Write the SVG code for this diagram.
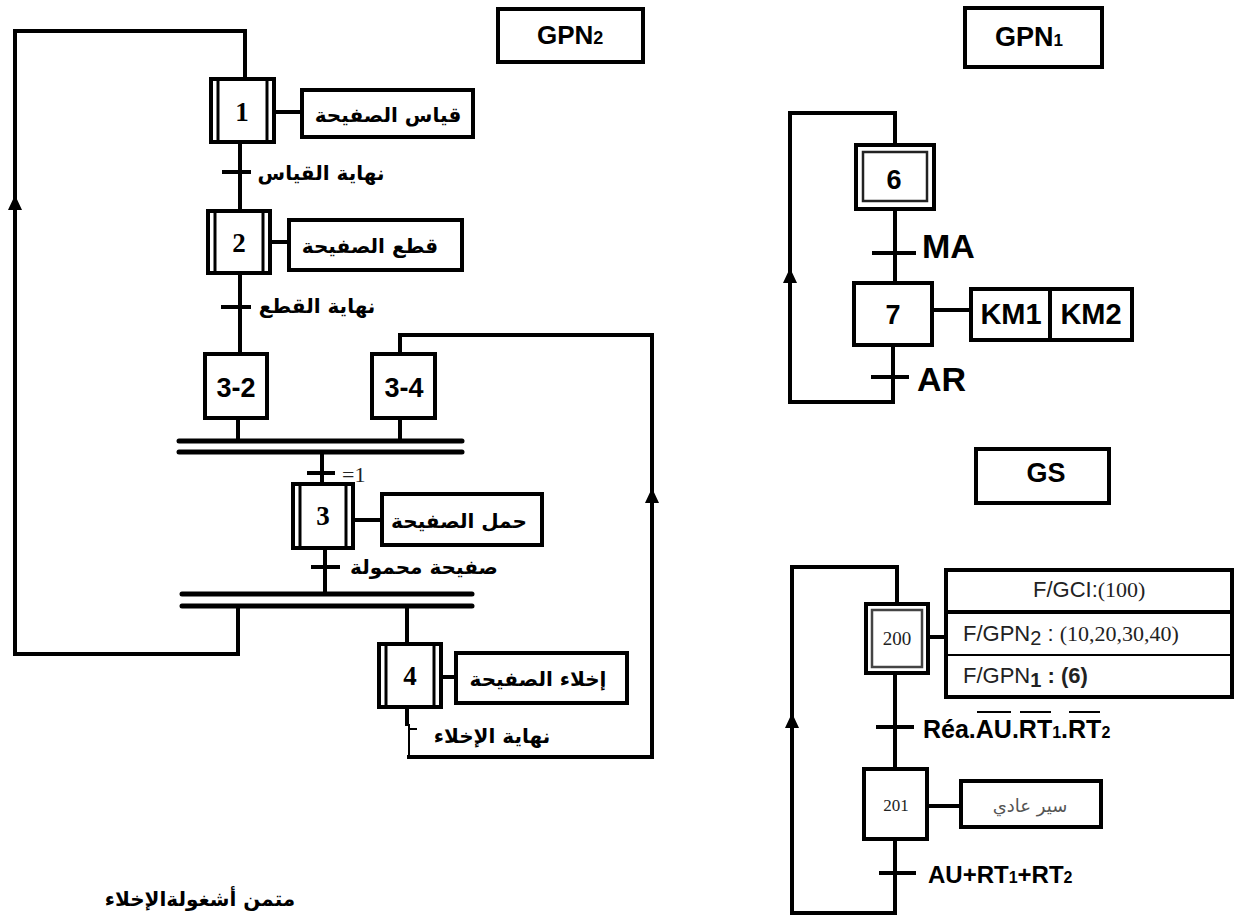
<svg xmlns="http://www.w3.org/2000/svg" width="1241" height="917" viewBox="0 0 1241 917">
<style>
.ln{stroke:#000;stroke-width:4;fill:none;stroke-linecap:square}
.thin{stroke:#000;stroke-width:2;fill:none}
.bar{stroke:#000;stroke-width:5;fill:none;stroke-linecap:round}
.box{fill:#fff;stroke:#000;stroke-width:4}
.inner{stroke:#000;stroke-width:3;fill:none}
.ar{font-family:"DejaVu Sans",sans-serif;font-weight:bold;font-size:20px;fill:#000}
.lbl{font-family:"Liberation Sans",Arial,sans-serif;font-weight:bold;fill:#000}
.num{font-family:"Liberation Serif","Times New Roman",serif;font-weight:bold;font-size:27px;fill:#000}
.ser{font-family:"Liberation Serif","Times New Roman",serif;fill:#222}
.sans{font-family:"Liberation Sans",Arial,sans-serif;fill:#222}
</style>
<defs>
<path id="arr" d="M0,-8 L-7,7 L7,7 Z" fill="#000"/>
</defs>
<rect width="1241" height="917" fill="#fff"/>

<g id="connectors">
  <!-- GPN2 -->
  <polyline class="ln" points="245,78 245,31 15,31 15,654 238,654 238,606"/>
  <line class="ln" x1="240" y1="142" x2="240" y2="210"/>
  <line class="ln" x1="240" y1="273" x2="240" y2="353"/>
  <line class="ln" x1="224" y1="172" x2="249" y2="172"/>
  <line class="ln" x1="223" y1="307" x2="249" y2="307"/>
  <line class="ln" x1="274" y1="112" x2="302" y2="112"/>
  <line class="ln" x1="270" y1="242" x2="288" y2="242"/>
  <polyline class="ln" points="400,353 400,335 652,335 652,757 409,757"/>
  <line class="ln" x1="238" y1="418" x2="238" y2="441"/>
  <line class="ln" x1="400" y1="418" x2="400" y2="441"/>
  <line class="bar" x1="179" y1="441" x2="462" y2="441"/>
  <line class="bar" x1="179" y1="452" x2="462" y2="452"/>
  <line class="ln" x1="322" y1="452" x2="322" y2="483"/>
  <line class="ln" x1="309" y1="473" x2="333" y2="473"/>
  <line class="ln" x1="353" y1="520" x2="382" y2="520"/>
  <line class="ln" x1="325" y1="548" x2="325" y2="594"/>
  <line class="ln" x1="313" y1="567" x2="338" y2="567"/>
  <line class="bar" x1="182" y1="594" x2="472" y2="594"/>
  <line class="bar" x1="182" y1="606" x2="472" y2="606"/>
  <line class="ln" x1="407" y1="606" x2="407" y2="643"/>
  <line class="ln" x1="441" y1="677" x2="456" y2="677"/>
  <line class="ln" x1="407" y1="707" x2="407" y2="724"/>
  <line class="thin" x1="409" y1="724" x2="409" y2="757"/>
  <line class="thin" x1="409" y1="729" x2="417" y2="729"/>
  <use href="#arr" x="15" y="203"/>
  <use href="#arr" x="652" y="496"/>
  <!-- GPN1 -->
  <polyline class="ln" points="895,144 895,113 790,113 790,402 893,402 893,345"/>
  <line class="ln" x1="895" y1="209" x2="895" y2="282"/>
  <line class="ln" x1="874" y1="253" x2="914" y2="253"/>
  <line class="ln" x1="873" y1="377" x2="907" y2="377"/>
  <line class="ln" x1="932" y1="310" x2="970" y2="310"/>
  <use href="#arr" x="790" y="276"/>
  <!-- GS -->
  <polyline class="ln" points="897,603 897,567 792,567 792,913 895,913 895,839"/>
  <line class="ln" x1="895" y1="673" x2="895" y2="768"/>
  <line class="ln" x1="878" y1="727" x2="912" y2="727"/>
  <line class="ln" x1="881" y1="873" x2="914" y2="873"/>
  <line class="ln" x1="928" y1="637" x2="945" y2="637"/>
  <line class="ln" x1="927" y1="806" x2="960" y2="806"/>
  <use href="#arr" x="792" y="721"/>
</g>

<!-- GPN2 title -->
<g id="title-gpn2">
  <rect class="box" x="498" y="9" width="145" height="53"/>
  <text class="lbl" x="537" y="44" font-size="26">GPN<tspan font-size="18">2</tspan></text>
</g>

<g id="step1">
  <rect class="box" x="211" y="79" width="63" height="63"/>
  <line class="inner" x1="218" y1="79" x2="218" y2="142"/>
  <line class="inner" x1="267" y1="79" x2="267" y2="142"/>
  <text class="num" x="242" y="121" text-anchor="middle">1</text>
</g>
<g id="action1">
  <rect class="box" x="302" y="90" width="171" height="47"/>
  <text class="ar" x="388" y="122" text-anchor="middle">قياس الصفيحة</text>
</g>
<g id="t1"><text class="ar" x="321" y="180" text-anchor="middle">نهاية القياس</text></g>

<g id="step2">
  <rect class="box" x="208" y="211" width="62" height="62"/>
  <line class="inner" x1="215" y1="211" x2="215" y2="273"/>
  <line class="inner" x1="263" y1="211" x2="263" y2="273"/>
  <text class="num" x="239" y="252" text-anchor="middle">2</text>
</g>
<g id="action2">
  <rect class="box" x="289" y="220" width="173" height="50"/>
  <text class="ar" x="370" y="253" text-anchor="middle">قطع الصفيحة</text>
</g>
<g id="t2"><text class="ar" x="317" y="313" text-anchor="middle">نهاية القطع</text></g>

<g id="step3-2">
  <rect class="box" x="205" y="354" width="62" height="64"/>
  <text class="lbl" x="236" y="397" font-size="27" text-anchor="middle">3-2</text>
</g>
<g id="step3-4">
  <rect class="box" x="372" y="354" width="63" height="64"/>
  <text class="lbl" x="404" y="397" font-size="27" text-anchor="middle">3-4</text>
</g>
<g id="t-sync"><text class="ser" x="342" y="482" font-size="22" fill="#000">=1</text></g>

<g id="step3">
  <rect class="box" x="293" y="484" width="60" height="64"/>
  <line class="inner" x1="300" y1="484" x2="300" y2="548"/>
  <line class="inner" x1="346" y1="484" x2="346" y2="548"/>
  <text class="num" x="323" y="525" text-anchor="middle">3</text>
</g>
<g id="action3">
  <rect class="box" x="382" y="494" width="160" height="51"/>
  <text class="ar" x="459" y="528" text-anchor="middle">حمل الصفيحة</text>
</g>
<g id="t3"><text class="ar" x="424" y="574" text-anchor="middle">صفيحة محمولة</text></g>

<g id="step4">
  <rect class="box" x="379" y="644" width="62" height="63"/>
  <line class="inner" x1="386" y1="644" x2="386" y2="707"/>
  <line class="inner" x1="434" y1="644" x2="434" y2="707"/>
  <text class="num" x="410" y="685" text-anchor="middle">4</text>
</g>
<g id="action4">
  <rect class="box" x="456" y="653" width="171" height="50"/>
  <text class="ar" x="538" y="686" text-anchor="middle">إخلاء الصفيحة</text>
</g>
<g id="t4"><text class="ar" x="492" y="743" text-anchor="middle">نهاية الإخلاء</text></g>

<!-- GPN1 -->
<g id="title-gpn1">
  <rect class="box" x="965" y="8" width="137" height="59"/>
  <text class="lbl" x="995" y="46" font-size="27">GPN<tspan font-size="17">1</tspan></text>
</g>
<g id="step6">
  <rect class="box" x="856" y="145" width="78" height="64"/>
  <rect x="863" y="152" width="64" height="49" fill="none" stroke="#222" stroke-width="2.5"/>
  <text class="lbl" x="894" y="189" font-size="27" text-anchor="middle">6</text>
</g>
<g id="t-ma"><text class="lbl" x="922" y="258" font-size="34">MA</text></g>
<g id="step7">
  <rect class="box" x="854" y="283" width="78" height="62"/>
  <text class="lbl" x="893" y="324" font-size="27" text-anchor="middle">7</text>
</g>
<g id="action7">
  <rect class="box" x="971" y="289" width="161" height="51"/>
  <line class="ln" x1="1050" y1="289" x2="1050" y2="340"/>
  <text class="lbl" x="1011" y="324" font-size="29" text-anchor="middle">KM1</text>
  <text class="lbl" x="1091" y="324" font-size="29" text-anchor="middle">KM2</text>
</g>
<g id="t-ar"><text class="lbl" x="917" y="391" font-size="34">AR</text></g>

<!-- GS -->
<g id="title-gs">
  <rect class="box" x="976" y="449" width="133" height="54"/>
  <text class="lbl" x="1046" y="482" font-size="27" text-anchor="middle">GS</text>
</g>
<g id="step200">
  <rect class="box" x="866" y="604" width="62" height="69"/>
  <rect x="872" y="610" width="50" height="57" fill="none" stroke="#444" stroke-width="2.5"/>
  <text class="ser" x="897" y="645" font-size="19" text-anchor="middle" fill="#333">200</text>
</g>
<g id="action200">
  <rect class="box" x="946" y="570" width="286" height="127"/>
  <line class="ln" x1="946" y1="612" x2="1232" y2="612"/>
  <line class="thin" x1="946" y1="655" x2="1232" y2="655" stroke-width="3"/>
  <text x="1033" y="597" font-size="22"><tspan class="sans">F/GCI:</tspan><tspan class="ser">(100)</tspan></text>
  <text x="963" y="641" font-size="22"><tspan class="sans">F/GPN</tspan><tspan class="sans" font-size="20" dy="4">2</tspan><tspan class="sans" dy="-4"> : </tspan><tspan class="ser">(10,20,30,40)</tspan></text>
  <text x="963" y="683" font-size="22"><tspan class="sans">F/GPN</tspan><tspan class="sans" font-size="20" dy="4" font-weight="bold">1</tspan><tspan class="sans" dy="-4" font-weight="bold"> : (6)</tspan></text>
</g>
<g id="t-rea">
  <text class="lbl" x="923" y="738" font-size="25">Réa.AU.RT<tspan font-size="16">1</tspan>.RT<tspan font-size="16">2</tspan></text>
  <line class="thin" x1="977" y1="712" x2="1011" y2="712" stroke-width="3"/>
  <line class="thin" x1="1020" y1="712" x2="1051" y2="712" stroke-width="3"/>
  <line class="thin" x1="1069" y1="712" x2="1100" y2="712" stroke-width="3"/>
</g>
<g id="step201">
  <rect class="box" x="864" y="769" width="63" height="70"/>
  <text class="ser" x="896" y="811" font-size="17" text-anchor="middle" fill="#333">201</text>
</g>
<g id="action201">
  <rect class="box" x="961" y="781" width="140" height="46"/>
  <text x="1030" y="812" font-family="DejaVu Sans, sans-serif" font-size="18" fill="#555" text-anchor="middle">سير عادي</text>
</g>
<g id="t-au"><text class="lbl" x="928" y="883" font-size="24">AU+RT<tspan font-size="16">1</tspan>+RT<tspan font-size="16">2</tspan></text></g>

<g id="caption"><text class="ar" x="200" y="906" font-size="21" text-anchor="middle">متمن أشغولةالإخلاء</text></g>
</svg>
